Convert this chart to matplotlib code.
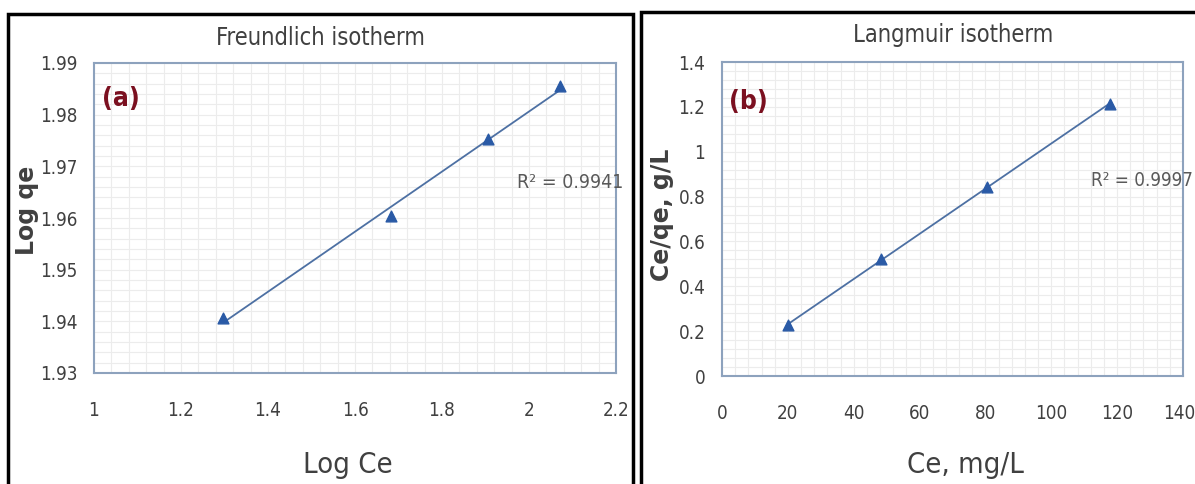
import numpy as np
import matplotlib
matplotlib.use("Agg")
import matplotlib.pyplot as plt
from matplotlib import font_manager
from matplotlib.ticker import MultipleLocator
from matplotlib.patches import Rectangle

# pick a narrow font (Calibri-like look) if one is installed
names = {f.name for f in font_manager.fontManager.ttflist}
condensed = {f.name for f in font_manager.fontManager.ttflist
             if f.stretch in ("condensed", "semi-condensed", 600, 500)}
if "Liberation Sans Narrow" in names:
    plt.rcParams['font.family'] = ['Liberation Sans Narrow', 'DejaVu Sans']
elif "DejaVu Sans" in condensed:
    plt.rcParams['font.family'] = ['DejaVu Sans']
    plt.rcParams['font.stretch'] = 'condensed'
else:
    plt.rcParams['font.family'] = ['DejaVu Sans']

# Freundlich isotherm (a)
log_ce = [1.297, 1.683, 1.906, 2.071]
log_qe = [1.9406, 1.9604, 1.9753, 1.9855]
r2_freundlich = "R² = 0.9941"

# Langmuir isotherm (b)
ce = [20.0, 48.3, 80.5, 117.8]
ce_qe = [0.227, 0.520, 0.843, 1.213]
r2_langmuir = "R² = 0.9997"

frame_col = "#8da2bd"
grid_col = "#ececec"
mark_col = "#2a5aa6"
line_col = "#4d70a3"
text_col = "#404040"

fig = plt.figure(figsize=(11.95, 4.84), dpi=100)

# black panel boxes
fig.patches.append(Rectangle((8 / 1195, -0.05), 625 / 1195, 1.05 - 14 / 484,
                             transform=fig.transFigure, fill=False,
                             edgecolor="black", linewidth=2.5))
fig.patches.append(Rectangle((641 / 1195, -0.05), 560 / 1195, 1.05 - 12 / 484,
                             transform=fig.transFigure, fill=False,
                             edgecolor="black", linewidth=2.5))

XPAD = 20


def style(ax, xmaj, ymaj):
    ax.xaxis.set_major_locator(MultipleLocator(xmaj))
    ax.xaxis.set_minor_locator(MultipleLocator(xmaj / 5))
    ax.yaxis.set_major_locator(MultipleLocator(ymaj))
    ax.yaxis.set_minor_locator(MultipleLocator(ymaj / 5))
    ax.grid(which="both", color=grid_col, linewidth=0.8)
    ax.set_axisbelow(True)
    for s in ax.spines.values():
        s.set_color(frame_col)
        s.set_linewidth(1.5)
    ax.tick_params(which="both", length=0, labelsize=13.5, colors=text_col)
    ax.tick_params(axis="x", pad=XPAD)
    ax.tick_params(axis="y", pad=12)


def fit_line(ax, x, y):
    k, b = np.polyfit(x, y, 1)
    xs = np.array([min(x), max(x)])
    ax.plot(xs, k * xs + b, color=line_col, linewidth=1.3, zorder=2)
    ax.scatter(x, y, marker="^", s=60, color=mark_col, zorder=3)


ax1 = fig.add_axes([94 / 1195, 1 - 373 / 484, 522 / 1195, 310 / 484])
fit_line(ax1, log_ce, log_qe)
ax1.set_xlim(1, 2.2)
ax1.set_ylim(1.93, 1.99)
style(ax1, 0.2, 0.01)
ax1.set_xticks([1, 1.2, 1.4, 1.6, 1.8, 2, 2.2])
ax1.set_xticklabels(["1", "1.2", "1.4", "1.6", "1.8", "2", "2.2"])
ax1.set_yticks([1.93, 1.94, 1.95, 1.96, 1.97, 1.98, 1.99])
ax1.set_yticklabels(["1.93", "1.94", "1.95", "1.96", "1.97", "1.98", "1.99"])
ax1.text(0.015, 0.86, "(a)", transform=ax1.transAxes, fontsize=19,
         fontweight="bold", color="#7b1020")
ax1.text(0.81, 0.613, r2_freundlich, transform=ax1.transAxes, fontsize=14,
         va="center", color="#595959")
fig.text(320 / 1195, 1 - 38 / 484, "Freundlich isotherm", ha="center",
         va="center", fontsize=17, color=text_col)
fig.text(348 / 1195, 1 - 465 / 484, "Log Ce", ha="center", va="center",
         fontsize=21, color=text_col)
fig.text(27 / 1195, 1 - 210 / 484, "Log qe", ha="center", va="center",
         rotation=90, fontsize=17, fontweight="bold", color=text_col,
         family="DejaVu Sans", fontstretch="normal")

ax2 = fig.add_axes([722 / 1195, 1 - 376 / 484, 461 / 1195, 314 / 484])
fit_line(ax2, ce, ce_qe)
ax2.set_xlim(0, 140)
ax2.set_ylim(0, 1.4)
style(ax2, 20, 0.2)
ax2.set_xticks([0, 20, 40, 60, 80, 100, 120, 140])
ax2.set_xticklabels(["0", "20", "40", "60", "80", "100", "120", ""])
# last x label nudged left so it stays inside the figure
ax2.annotate("140", xy=(140, 0), xycoords=("data", "axes fraction"),
             xytext=(-3, -XPAD), textcoords="offset points",
             ha="center", va="top", fontsize=13.5, color=text_col,
             annotation_clip=False)
ax2.set_yticks([0, 0.2, 0.4, 0.6, 0.8, 1.0, 1.2, 1.4])
ax2.set_yticklabels(["0", "0.2", "0.4", "0.6", "0.8", "1", "1.2", "1.4"])
ax2.text(0.015, 0.85, "(b)", transform=ax2.transAxes, fontsize=19,
         fontweight="bold", color="#7b1020")
ax2.text(0.80, 0.624, r2_langmuir, transform=ax2.transAxes, fontsize=13.5,
         va="center", color="#595959")
fig.text(953 / 1195, 1 - 35 / 484, "Langmuir isotherm", ha="center",
         va="center", fontsize=17, color=text_col)
fig.text(965 / 1195, 1 - 465 / 484, "Ce, mg/L", ha="center", va="center",
         fontsize=21, color=text_col)
fig.text(662 / 1195, 1 - 215 / 484, "Ce/qe, g/L", ha="center", va="center",
         rotation=90, fontsize=17, fontweight="bold", color=text_col,
         family="DejaVu Sans", fontstretch="normal")

fig.savefig("out.png", dpi=100, facecolor="white")
